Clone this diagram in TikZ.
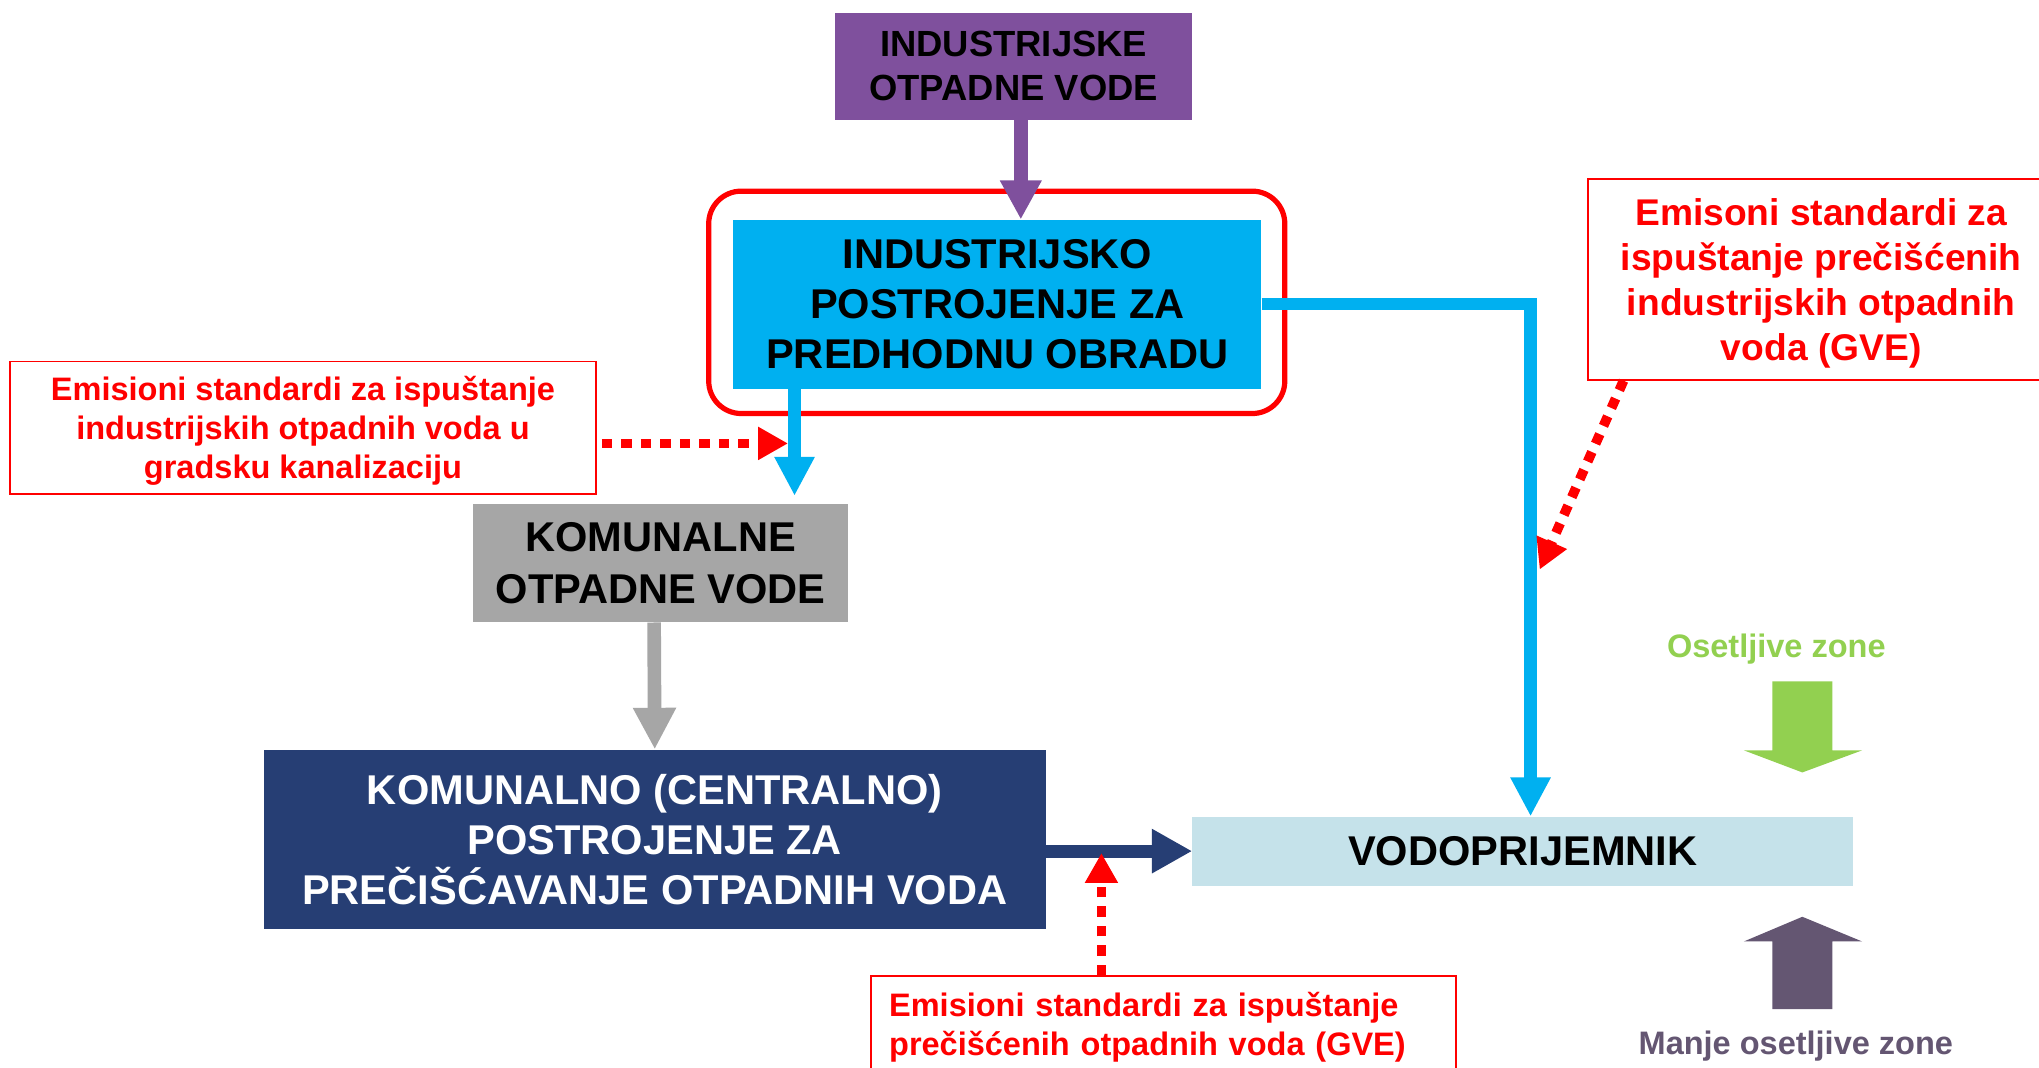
\documentclass[tikz,border=0pt]{standalone}
\usepackage{fontspec}
\setmainfont{Liberation Sans}
\usetikzlibrary{arrows.meta,calc}
\definecolor{purpleC}{RGB}{127,80,157}
\definecolor{cyanC}{RGB}{0,176,240}
\definecolor{grayC}{RGB}{166,166,166}
\definecolor{navyC}{RGB}{38,62,116}
\definecolor{vodoC}{RGB}{197,226,234}
\definecolor{greenC}{RGB}{146,208,80}
\definecolor{dpurpleC}{RGB}{100,86,114}
\begin{document}
\begin{tikzpicture}[x=1pt,y=-1pt,
  box/.style={inner sep=0pt, align=center, draw=none},
  bigtext/.style={font=\fontsize{32}{38.5}\selectfont\bfseries},
  redbox/.style={draw=red, line width=1.5pt, text=red, inner sep=0pt},
  purplearrow/.style={draw=purpleC, line width=10.5pt, -{Triangle[width=30pt,length=30pt]}},
  cyanarrow/.style={draw=cyanC, line width=9.5pt, -{Triangle[width=29pt,length=30pt]}},
  grayarrow/.style={draw=grayC, line width=10.5pt, -{Triangle[width=31pt,length=32pt]}},
  navyarrow/.style={draw=navyC, line width=10pt, -{Triangle[width=32pt,length=31pt]}},
  reddot/.style={draw=red, line width=7.5pt, dash pattern=on 8pt off 7pt, -{Triangle[width=24pt,length=23pt]}}
]
\clip (0,0) rectangle (1568,821);
\fill[white] (0,0) rectangle (1568,821);

% frame around industrial plant
\node[draw=red, line width=4pt, rounded corners=25pt, minimum width=443pt, minimum height=171pt, inner sep=0pt] (frame) at (766.5,232.5) {};

% boxes
\node[box, fill=purpleC, minimum width=275pt, minimum height=82pt, font=\fontsize{28}{34}\selectfont\bfseries] (ind) at (779.5,51) {INDUSTRIJSKE\\OTPADNE VODE};
\node[box, bigtext, fill=cyanC, minimum width=406pt, minimum height=130pt] (cyanb) at (767,234) {INDUSTRIJSKO\\POSTROJENJE ZA\\PREDHODNU OBRADU};
\node[box, fill=grayC, minimum width=288pt, minimum height=91pt, font=\fontsize{32}{40}\selectfont\bfseries] (gray) at (508,433) {KOMUNALNE\\OTPADNE VODE};
\node[box, bigtext, fill=navyC, text=white, minimum width=601pt, minimum height=138pt] (navy) at (503.5,645.5) {KOMUNALNO (CENTRALNO)\\POSTROJENJE ZA\\PREČIŠĆAVANJE OTPADNIH VODA};
\node[box, bigtext, fill=vodoC, minimum width=508pt, minimum height=53pt] (vodo) at (1171,654.5) {VODOPRIJEMNIK};

% red note boxes
\node[redbox, align=center, text depth=0pt, minimum width=450pt, minimum height=102pt, font=\fontsize{25}{30}\selectfont\bfseries] (lred) at (233,329) {Emisioni standardi za ispuštanje\\industrijskih otpadnih voda u\\gradsku kanalizaciju};
\node[redbox, align=center, text depth=0pt, minimum width=359pt, minimum height=154pt, font=\fontsize{28.6}{34.7}\selectfont\bfseries] (rred) at (1400.5,215) {Emisoni standardi za\\ispuštanje prečišćenih\\industrijskih otpadnih\\voda (GVE)};
\node[redbox, anchor=north west, align=left, minimum width=450pt, minimum height=78pt, text width=422pt, inner xsep=14pt, font=\fontsize{25}{30}\selectfont\bfseries] (bred) at (669,750) {Emisioni standardi za ispuštanje\\prečišćenih otpadnih voda (GVE)};

% connectors
\draw[purplearrow] ([xshift=5.5pt]ind.south) -- ([xshift=18pt]cyanb.north);
\draw[cyanarrow] ([xshift=-156pt]cyanb.south) -- ([xshift=103pt,yshift=6pt]gray.north);
\draw[cyanarrow, line join=miter] (cyanb.east) -| ([xshift=6pt]vodo.north);
\draw[grayarrow] ([xshift=-5pt]gray.south) -- (navy.north);
\draw[navyarrow] (navy.east |- vodo.west) -- (vodo.west);

\coordinate (lrtip) at (606,341);
\draw[reddot] ([xshift=4pt,yshift=-12pt]lred.east) -- (lrtip);
\coordinate (rrtip) at (1184,438);
\draw[reddot] ([xshift=-152pt]rred.south) -- (rrtip);
\coordinate (brtip) at (847,656);
\draw[reddot] ([xshift=178pt]bred.north west) -- (brtip);

% zone arrows
\fill[greenC] (1363,524) -- (1409,524) -- (1409,577) -- (1432,577) -- (1386,594) -- (1341,577) -- (1363,577) -- cycle;
\fill[dpurpleC] (1363,776) -- (1409,776) -- (1409,724) -- (1432,724) -- (1386,705) -- (1341,724) -- (1363,724) -- cycle;
\node[anchor=base, text=greenC, font=\fontsize{25}{30}\selectfont\bfseries] (osz) at (1366,506) {Osetljive zone};
\node[anchor=base, text=dpurpleC, font=\fontsize{25}{30}\selectfont\bfseries] (mz) at (1381,811) {Manje osetljive zone};
\end{tikzpicture}
\end{document}
